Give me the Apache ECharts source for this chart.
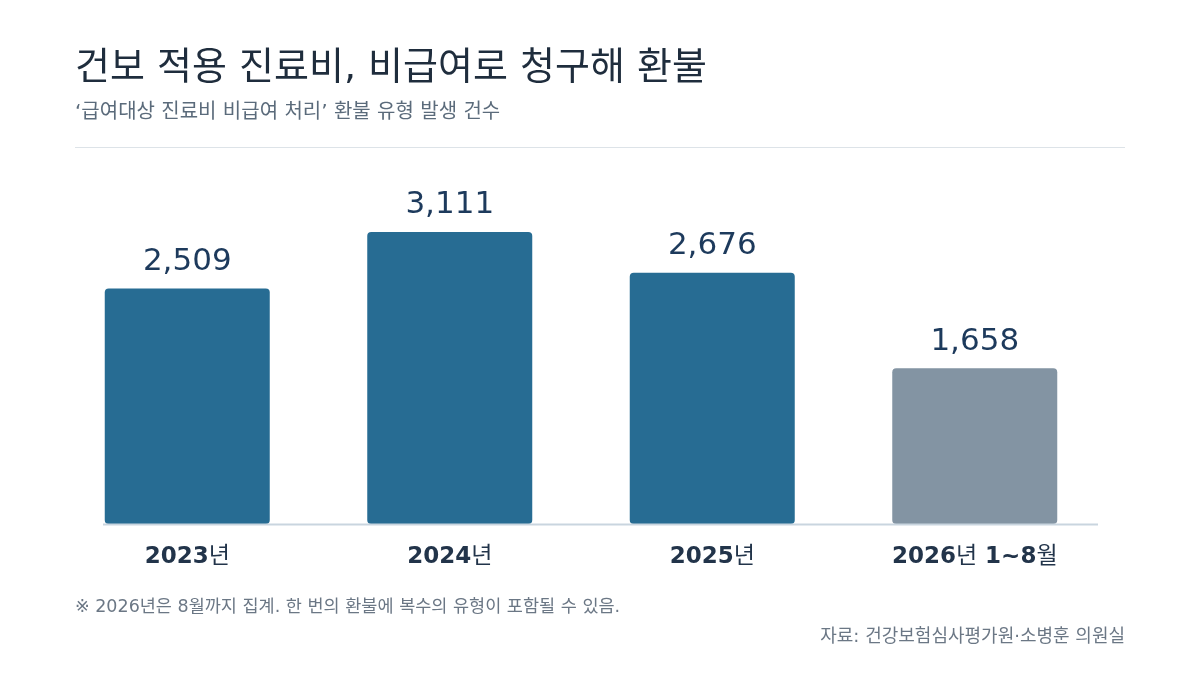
<!DOCTYPE html>
<html><head><meta charset="utf-8">
<script src="https://cdn.jsdelivr.net/npm/echarts@6/dist/echarts.min.js"></script>
<style>html,body{margin:0;padding:0;background:#fff}#c{width:1200px;height:675px}</style>
</head><body><div id="c"></div>
<script>
const categories = ['2023년', '2024년', '2025년', '2026년 1~8월'];
const refundCases = [2509, 3111, 2676, 1658];
const partialYear = [false, false, false, true];

const titleText = '건보 적용 진료비, 비급여로 청구해 환불';
const subtitleText = '‘급여대상 진료비 비급여 처리’ 환불 유형 발생 건수';
const noteText = '※ 2026년은 8월까지 집계. 한 번의 환불에 복수의 유형이 포함될 수 있음.';
const sourceText = '자료: 건강보험심사평가원·소병훈 의원실';

const FONT = '"DejaVu Sans", "Noto Sans CJK KR", sans-serif';

function richLabel(s) {
  // bold latin/digits, regular-weight hangul
  return s.replace(/([^\uAC00-\uD7A3]+)|([\uAC00-\uD7A3]+)/g, (m, a, h) => a ? '{b|' + a + '}' : '{k|' + h + '}');
}

const chart = echarts.init(document.getElementById('c'));
chart.setOption({
  backgroundColor: '#ffffff',
  animation: false,
  grid: { left: 56, right: 94, top: 186, bottom: 151 },
  xAxis: {
    type: 'category',
    data: categories,
    axisLine: { show: false },
    axisTick: { show: false },
    axisLabel: {
      interval: 0, hideOverlap: false,
      margin: 22, fontSize: 23, fontWeight: 'bold', color: '#22344a', fontFamily: FONT,
      formatter: v => richLabel(v),
      rich: {
        b: { fontSize: 23, fontWeight: 'bold', color: '#22344a', fontFamily: FONT },
        k: { fontSize: 23, fontWeight: 'normal', color: '#22344a', fontFamily: FONT }
      }
    }
  },
  yAxis: { type: 'value', min: 0, max: 3600, show: false, splitLine: { show: false } },
  series: [{
    type: 'bar',
    barWidth: 165,
    data: refundCases.map((v, i) => ({
      value: v,
      itemStyle: { color: partialYear[i] ? '#8394a3' : '#276c93', borderRadius: 4 }
    })),
    label: {
      show: true, position: 'top', distance: 11,
      fontSize: 31, color: '#1d3a5c', fontFamily: FONT,
      formatter: p => p.value.toLocaleString('en-US')
    }
  }],
  graphic: [
    { type: 'text', left: 75, top: 50, style: { text: titleText, font: '38px ' + FONT, fill: '#1f2d3d' } },
    { type: 'text', left: 75, top: 103, style: { text: subtitleText, font: '20px ' + FONT, fill: '#5b6b7b' } },
    { type: 'rect', shape: { x: 75, y: 147, width: 1050, height: 1 }, style: { fill: '#dde3e8' } },
    { type: 'rect', z: 10, shape: { x: 103, y: 523.5, width: 995, height: 2 }, style: { fill: '#c9d5df' } },
    { type: 'text', left: 75, top: 599, style: { text: noteText, font: '17.5px ' + FONT, fill: '#6b7785' } },
    { type: 'text', right: 75, top: 628, style: { text: sourceText, font: '18px ' + FONT, fill: '#6b7785' } }
  ]
});
</script></body></html>
